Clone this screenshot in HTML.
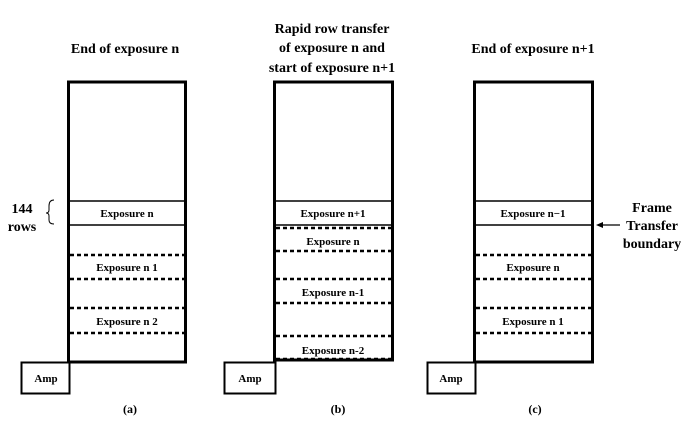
<!DOCTYPE html>
<html><head><style>
body{margin:0;background:#fff;}
svg text{font-family:"Liberation Serif",serif;font-weight:bold;fill:#000;}
</style></head><body>
<svg width="690" height="428" viewBox="0 0 690 428" xmlns="http://www.w3.org/2000/svg">
<g font-size="14" text-anchor="middle">
<text x="125" y="53">End of exposure n</text>
<text x="332" y="33">Rapid row transfer</text>
<text x="332" y="52">of exposure n and</text>
<text x="332" y="72">start of exposure n+1</text>
<text x="533" y="53">End of exposure n+1</text>
<text x="130" y="413" font-size="12">(a)</text>
<text x="338" y="413" font-size="12">(b)</text>
<text x="535" y="413" font-size="12">(c)</text>
<text x="652" y="212">Frame</text>
<text x="652" y="230">Transfer</text>
<text x="652" y="248">boundary</text>
<text x="22" y="213" text-anchor="middle">144</text>
<text x="22" y="231" text-anchor="middle">rows</text>
</g>
<path d="M54 200 Q49 200 49 206 L49 210 Q49 213 46 213 Q49 213 49 216 L49 220 Q49 224 54 224" fill="none" stroke="#000" stroke-width="1"/>
<!-- arrow -->
<line x1="600" y1="225" x2="620" y2="225" stroke="#000" stroke-width="1.3"/>
<polygon points="596,225 603,222 603,228" fill="#000"/>
<g fill="none" stroke="#000">
<!-- panel a -->
<rect x="68.5" y="82" width="117" height="280" stroke-width="3"/>
<line x1="68" y1="201" x2="186" y2="201" stroke-width="1.5"/>
<line x1="68" y1="225" x2="186" y2="225" stroke-width="1.5"/>
<g stroke-width="2.5" stroke-dasharray="4,3">
<line x1="70" y1="255" x2="184" y2="255"/><line x1="70" y1="279" x2="184" y2="279"/>
<line x1="70" y1="308" x2="184" y2="308"/><line x1="70" y1="333" x2="184" y2="333"/>
</g>
<rect x="21.5" y="362.5" width="48" height="31" stroke-width="2"/>
<!-- panel b -->
<rect x="274.5" y="82" width="118" height="278" stroke-width="3"/>
<line x1="274" y1="201" x2="393" y2="201" stroke-width="1.5"/>
<line x1="274" y1="225" x2="393" y2="225" stroke-width="1.5"/>
<g stroke-width="2.5" stroke-dasharray="4,3">
<line x1="276" y1="228" x2="391" y2="228"/><line x1="276" y1="251" x2="391" y2="251"/>
<line x1="276" y1="279" x2="391" y2="279"/><line x1="276" y1="303" x2="391" y2="303"/>
<line x1="276" y1="336" x2="391" y2="336"/><line x1="276" y1="359" x2="391" y2="359"/>
</g>
<rect x="224.5" y="362.5" width="51" height="31" stroke-width="2"/>
<!-- panel c -->
<rect x="474.5" y="82" width="118" height="280" stroke-width="3"/>
<line x1="474" y1="201" x2="593" y2="201" stroke-width="1.5"/>
<line x1="474" y1="225" x2="593" y2="225" stroke-width="1.5"/>
<g stroke-width="2.5" stroke-dasharray="4,3">
<line x1="476" y1="255" x2="591" y2="255"/><line x1="476" y1="279" x2="591" y2="279"/>
<line x1="476" y1="308" x2="591" y2="308"/><line x1="476" y1="333" x2="591" y2="333"/>
</g>
<rect x="427.5" y="362.5" width="48" height="31" stroke-width="2"/>
</g>
<g font-size="11" text-anchor="middle">
<text x="127" y="217">Exposure n</text>
<text x="127" y="271">Exposure n 1</text>
<text x="127" y="325">Exposure n 2</text>
<text x="46" y="382">Amp</text>
<text x="333" y="217">Exposure n+1</text>
<text x="333" y="245">Exposure n</text>
<text x="333" y="296">Exposure n-1</text>
<text x="333" y="354">Exposure n-2</text>
<text x="250" y="382">Amp</text>
<text x="533" y="217">Exposure n−1</text>
<text x="533" y="271">Exposure n</text>
<text x="533" y="325">Exposure n 1</text>
<text x="451" y="382">Amp</text>
</g>
</svg>
</body></html>
